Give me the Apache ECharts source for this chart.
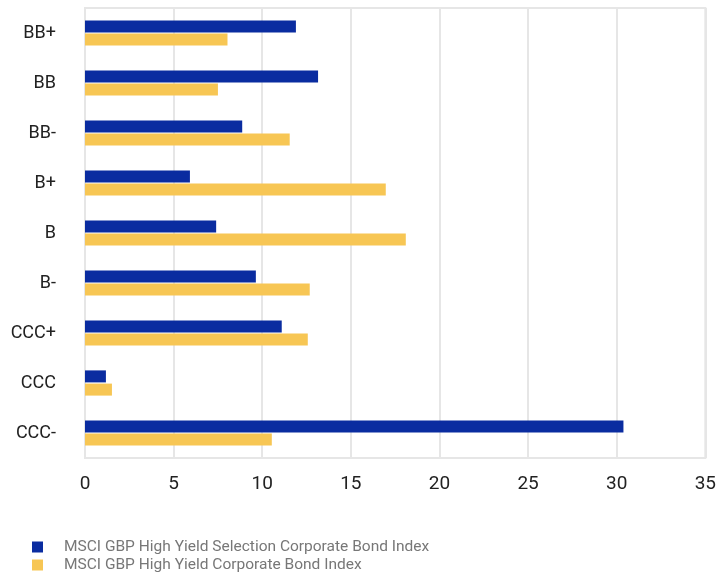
<!DOCTYPE html>
<html>
<head>
<meta charset="utf-8">
<script src="https://cdn.jsdelivr.net/npm/echarts@6/dist/echarts.min.js"></script>
<style>
  html, body { margin: 0; padding: 0; background: #fff; }
  #chart { width: 719px; height: 573px; }
</style>
</head>
<body>
<div id="chart"></div>
<script>
// data
const ratings = ['BB+', 'BB', 'BB-', 'B+', 'B', 'B-', 'CCC+', 'CCC', 'CCC-'];
const selectionIndex = [11.9, 13.15, 8.87, 5.92, 7.4, 9.64, 11.1, 1.18, 30.38];
const broadIndex = [8.04, 7.5, 11.55, 16.97, 18.1, 12.68, 12.57, 1.52, 10.54];
const seriesNames = [
  'MSCI GBP High Yield Selection Corporate Bond Index',
  'MSCI GBP High Yield Corporate Bond Index'
];
const chartColors = ['#0A2CA0', '#F7C654'];

// one legend per row, stacked
const legendBase = {
  left: 32,
  padding: 0,
  itemWidth: 11,
  itemHeight: 11,
  icon: 'rect',
  textStyle: { fontSize: 15.5, color: '#777', padding: [0, 0, 0, 16] }
};

const chartInstance = echarts.init(document.getElementById('chart'));
const option = {
  color: chartColors,
  animation: false,
  textStyle: { fontFamily: 'Roboto' },
  grid: {
    left: 85,
    right: 13,
    top: 8,
    bottom: 115,
    show: true,
    borderColor: '#e6e6e6',
    borderWidth: 2
  },
  legend: [
    Object.assign({}, legendBase, { top: 539, data: [seriesNames[0]] }),
    Object.assign({}, legendBase, { top: 557, data: [seriesNames[1]] })
  ],
  xAxis: {
    type: 'value',
    min: 0,
    max: 35,
    interval: 5,
    axisLine: { show: false },
    axisTick: { show: false },
    axisLabel: { fontSize: 19, color: '#222', margin: 17 },
    splitLine: { lineStyle: { color: '#e6e6e6', width: 2 } }
  },
  yAxis: {
    type: 'category',
    inverse: true,
    data: ratings,
    axisLine: { show: false },
    axisTick: { show: false },
    axisLabel: { fontSize: 18, color: '#222', margin: 29 }
  },
  series: [
    {
      name: seriesNames[0],
      type: 'bar',
      data: selectionIndex,
      barWidth: 12,
      barGap: '10%'
    },
    {
      name: seriesNames[1],
      type: 'bar',
      data: broadIndex,
      barWidth: 12,
      barGap: '10%'
    }
  ]
};
chartInstance.setOption(option);
</script>
</body>
</html>
